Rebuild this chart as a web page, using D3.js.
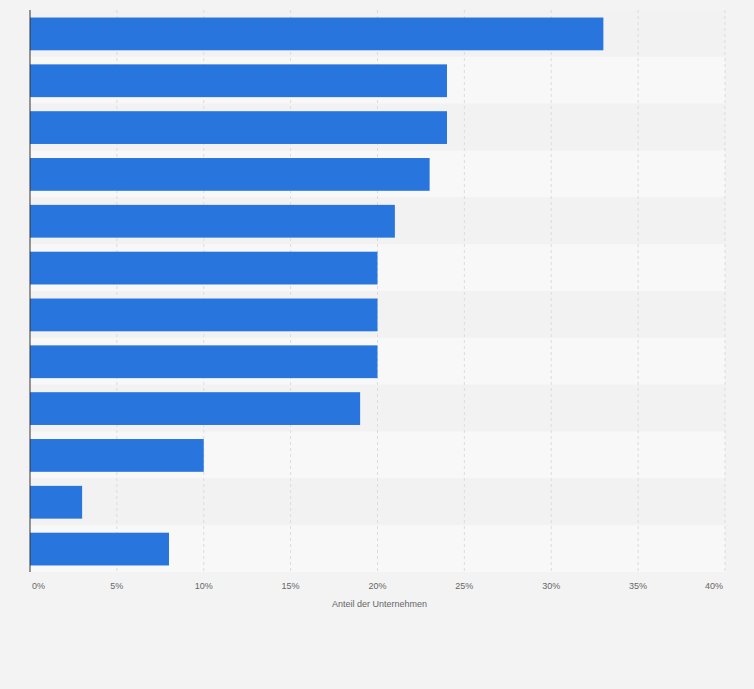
<!DOCTYPE html>
<html><head><meta charset="utf-8">
<script src="https://cdn.jsdelivr.net/npm/d3@7"></script>
<style>body{margin:0;background:#f3f3f3;font-family:"Liberation Sans",Arial,sans-serif}</style>
</head><body><svg id="c" width="754" height="689"></svg>
<script>
const categories = ["K1","K2","K3","K4","K5","K6","K7","K8","K9","K10","K11","K12"];
const values = [33,24,24,23,21,20,20,20,19,10,3,8];
const ticks = [0,5,10,15,20,25,30,35,40];
const axisTitle = "Anteil der Unternehmen";

const svg = d3.select("#c");
svg.append("rect").attr("width",754).attr("height",689).attr("fill","#f3f3f3");
const m = {l:30, r:725, t:10, b:572};
const x = d3.scaleLinear().domain([0,40]).range([m.l,m.r]);
const y = d3.scaleBand().domain(categories).range([m.t,m.b]).paddingInner(0).paddingOuter(0);

svg.selectAll(".band").data(categories).join("rect")
  .attr("x",m.l).attr("width",m.r-m.l)
  .attr("y",d=>y(d)).attr("height",y.bandwidth())
  .attr("fill",(d,i)=>i%2? "#f8f8f8":"#f2f2f2");

svg.selectAll(".grid").data(ticks.slice(1)).join("line")
  .attr("x1",d=>x(d)).attr("x2",d=>x(d)).attr("y1",m.t).attr("y2",m.b)
  .attr("stroke","#dcdcdc").attr("stroke-dasharray","3,3");

const pad = y.bandwidth()*0.15;
svg.selectAll(".bar").data(values).join("rect")
  .attr("x",x(0)).attr("y",(d,i)=>y(categories[i])+pad+0.5)
  .attr("width",d=>x(d)-x(0)).attr("height",y.bandwidth()-2*pad)
  .attr("fill","#2876dd");

svg.append("line").attr("x1",m.l).attr("x2",m.l).attr("y1",m.t).attr("y2",m.b)
  .attr("stroke","#333").attr("stroke-width",1);

svg.selectAll(".tl").data(ticks).join("text")
  .attr("x",(d,i)=> i===0? x(d)+2 : i===ticks.length-1 ? x(d)-2 : x(d))
  .attr("y",589)
  .attr("text-anchor",(d,i)=> i===0?"start": i===ticks.length-1?"end":"middle")
  .attr("font-size",9).attr("fill","#666").text(d=>d+"%");

svg.append("text").attr("x",(m.l+m.r)/2+2).attr("y",607).attr("text-anchor","middle")
  .attr("font-size",9).attr("fill","#666").text(axisTitle);
</script></body></html>
